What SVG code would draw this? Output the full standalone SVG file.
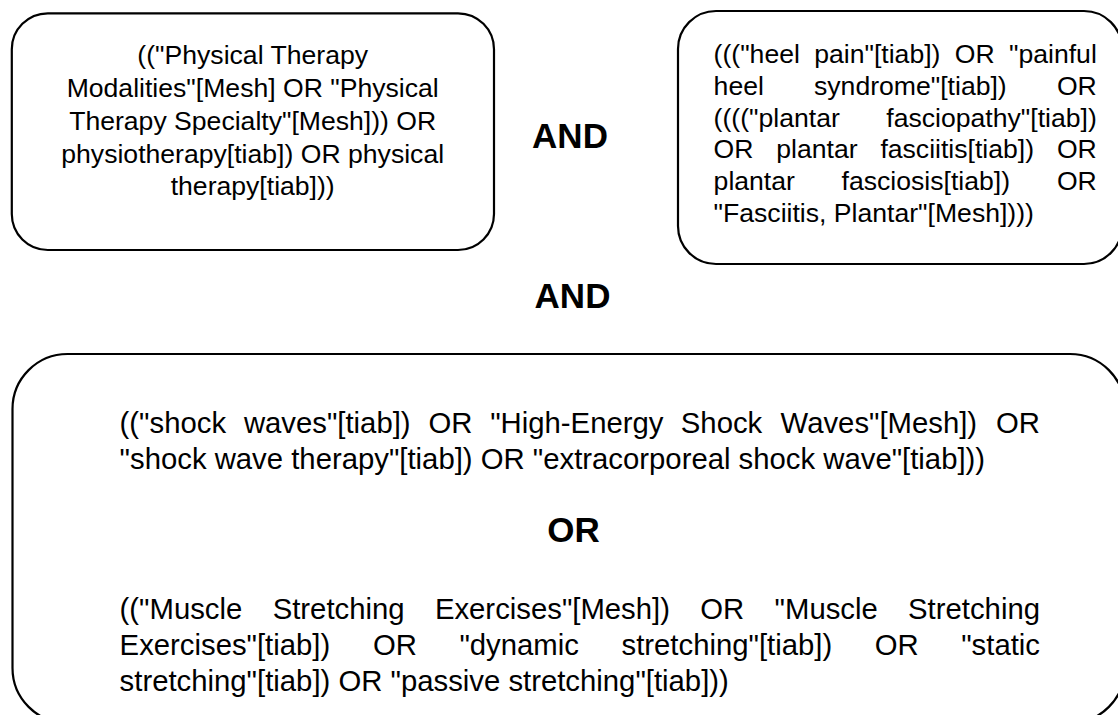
<svg xmlns="http://www.w3.org/2000/svg" width="1118" height="715" viewBox="0 0 1118 715">
<style>
.box{fill:#fff;stroke:#000;stroke-width:2.2}
.t1{font-family:"Liberation Sans",Arial,sans-serif;font-size:26.6px;fill:#000}
.t3{font-family:"Liberation Sans",Arial,sans-serif;font-size:29.3px;fill:#000}
.op{font-family:"Liberation Sans",Arial,sans-serif;font-size:35px;font-weight:bold;fill:#000;text-anchor:middle}
.c{text-anchor:middle}
.e{text-anchor:end}
</style>
<rect width="1118" height="715" fill="#fff"/>
<g id="connectors"></g>
<g id="node-physical-therapy">
<rect class="box" x="11.8" y="13.3" width="482.2" height="236.7" rx="36" ry="36"/>
<text class="t1 c" x="252.7" y="64">(("Physical Therapy</text>
<text class="t1 c" x="252.7" y="97">Modalities"[Mesh] OR "Physical</text>
<text class="t1 c" x="252.7" y="129.5">Therapy Specialty"[Mesh])) OR</text>
<text class="t1 c" x="252.7" y="162.5">physiotherapy[tiab]) OR physical</text>
<text class="t1 c" x="252.7" y="195">therapy[tiab]))</text>
</g>
<g id="node-heel-pain">
<rect class="box" x="678" y="11" width="444" height="253" rx="38" ry="38"/>
<text class="t1" x="713.6" y="63">((("heel</text>
<text class="t1" x="814.2" y="63">pain"[tiab])</text>
<text class="t1" x="954.8" y="63">OR</text>
<text class="t1 e" x="1096.8" y="63">"painful</text>
<text class="t1" x="713.6" y="94.8">heel</text>
<text class="t1" x="814.0" y="94.8">syndrome"[tiab])</text>
<text class="t1 e" x="1096.8" y="94.8">OR</text>
<text class="t1" x="713.6" y="126.6">(((("plantar</text>
<text class="t1 e" x="1096.8" y="126.6">fasciopathy"[tiab])</text>
<text class="t1" x="713.6" y="158.4">OR</text>
<text class="t1" x="776.3" y="158.4">plantar</text>
<text class="t1" x="880.4" y="158.4">fasciitis[tiab])</text>
<text class="t1 e" x="1096.8" y="158.4">OR</text>
<text class="t1" x="713.6" y="190.2">plantar</text>
<text class="t1" x="841.6" y="190.2">fasciosis[tiab])</text>
<text class="t1 e" x="1096.8" y="190.2">OR</text>
<text class="t1" x="713.6" y="222">"Fasciitis, Plantar"[Mesh])))</text>
</g>
<g id="op-and-1"><text class="op" x="570" y="148">AND</text></g>
<g id="op-and-2"><text class="op" x="572.5" y="308">AND</text></g>
<g id="node-interventions">
<rect class="box" x="12.5" y="354" width="1112.5" height="369" rx="55" ry="55"/>
<text class="t3" x="119.6" y="433.3">(("shock</text>
<text class="t3" x="243.9" y="433.3">waves"[tiab])</text>
<text class="t3" x="428.4" y="433.3">OR</text>
<text class="t3" x="490.2" y="433.3">"High-Energy</text>
<text class="t3" x="680.8" y="433.3">Shock</text>
<text class="t3" x="780.6" y="433.3">Waves"[Mesh])</text>
<text class="t3 e" x="1040" y="433.3">OR</text>
<text class="t3" x="119.6" y="468.5">"shock wave therapy"[tiab]) OR "extracorporeal shock wave"[tiab]))</text>
<text class="op" x="573.5" y="542">OR</text>
<text class="t3" x="119.6" y="618.5">(("Muscle</text>
<text class="t3" x="272.7" y="618.5">Stretching</text>
<text class="t3" x="434.9" y="618.5">Exercises"[Mesh])</text>
<text class="t3" x="700.3" y="618.5">OR</text>
<text class="t3" x="774.6" y="618.5">"Muscle</text>
<text class="t3 e" x="1040" y="618.5">Stretching</text>
<text class="t3" x="119.6" y="654.5">Exercises"[tiab])</text>
<text class="t3" x="372.9" y="654.5">OR</text>
<text class="t3" x="459.4" y="654.5">"dynamic</text>
<text class="t3" x="621.5" y="654.5">stretching"[tiab])</text>
<text class="t3" x="874.8" y="654.5">OR</text>
<text class="t3 e" x="1040" y="654.5">"static</text>
<text class="t3" x="119.6" y="690.5">stretching"[tiab]) OR "passive stretching"[tiab]))</text>
</g>
</svg>
